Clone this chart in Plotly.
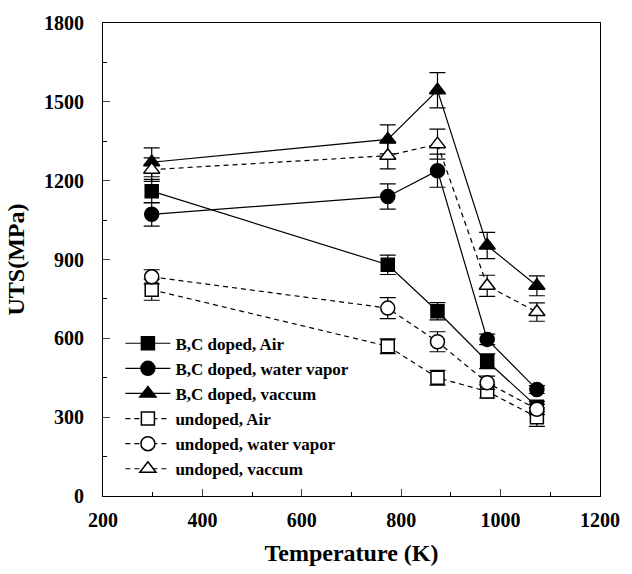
import plotly.graph_objects as go

temps = [298, 773, 873, 973, 1073]

names = ["B,C doped, Air", "B,C doped, water vapor", "B,C doped, vaccum",
         "undoped, Air", "undoped, water vapor", "undoped, vaccum"]

bc_air = [1160, 880, 703, 513, 340]
bc_air_err = [45, 37, 33, 28, 20]
bc_water = [1072, 1140, 1238, 596, 405]
bc_water_err = [45, 48, 63, 20, 15]
bc_vac = [1270, 1357, 1544, 953, 800]
bc_vac_err = [55, 55, 67, 50, 38]
un_air = [785, 570, 450, 398, 300]
un_air_err = [40, 28, 28, 25, 35]
un_water = [834, 715, 587, 431, 330]
un_water_err = [27, 40, 38, 25, 20]
un_vac = [1242, 1295, 1339, 800, 700]
un_vac_err = [45, 50, 57, 40, 35]

series = [bc_air, bc_water, bc_vac, un_air, un_water, un_vac]
errors = [bc_air_err, bc_water_err, bc_vac_err, un_air_err, un_water_err, un_vac_err]
symbols = ["square", "circle", "triangle-up", "square", "circle", "triangle-up"]
fills = ["black", "black", "black", "white", "white", "white"]
dashes = ["solid", "solid", "solid", "5px,4px", "5px,4px", "5px,4px"]
sizes = [13, 14, 14, 13, 14, 14]

fig = go.Figure()
for name, y, e, sym, f, d, s in zip(names, series, errors, symbols, fills, dashes, sizes):
    fig.add_trace(go.Scatter(
        x=temps, y=y, name=name, mode="lines+markers",
        line=dict(color="black", width=1.2, dash=d),
        marker=dict(symbol=sym, size=s, color=f, line=dict(color="black", width=1.5)),
        error_y=dict(type="data", array=e, visible=True, color="black", thickness=1.2, width=8),
    ))

axis_font = dict(family="Liberation Serif", size=20, color="black", weight="bold")
title_font = dict(family="Liberation Serif", size=24, color="black", weight="bold")
fig.update_layout(
    width=632, height=574,
    margin=dict(l=103, r=26, t=13, b=77),
    paper_bgcolor="white", plot_bgcolor="white",
    showlegend=True,
    legend=dict(x=0.035, y=0.36, xanchor="left", yanchor="top", itemwidth=45,
                bgcolor="rgba(0,0,0,0)", tracegroupgap=0,
                font=dict(family="Liberation Serif", size=17, color="black", weight="bold")),
    xaxis=dict(range=[200, 1200], dtick=200, tick0=200, ticks="inside", ticklen=7, tickwidth=1,
               showline=True, linecolor="black", linewidth=1.2, mirror=True, showgrid=False,
               zeroline=False, tickfont=axis_font, ticklabelstandoff=6,
               minor=dict(dtick=100, ticks="inside", ticklen=4, tickcolor="black"),
               title=dict(text="Temperature (K)", font=title_font, standoff=14)),
    yaxis=dict(range=[0, 1800], dtick=300, ticks="inside", ticklen=7, tickwidth=1,
               showline=True, linecolor="black", linewidth=1.2, mirror=True, showgrid=False,
               zeroline=False, tickfont=axis_font, ticklabelstandoff=14,
               minor=dict(dtick=150, ticks="inside", ticklen=4, tickcolor="black"),
               title=dict(text="UTS(MPa)", font=title_font, standoff=12)),
)

fig.write_html("out.html")
